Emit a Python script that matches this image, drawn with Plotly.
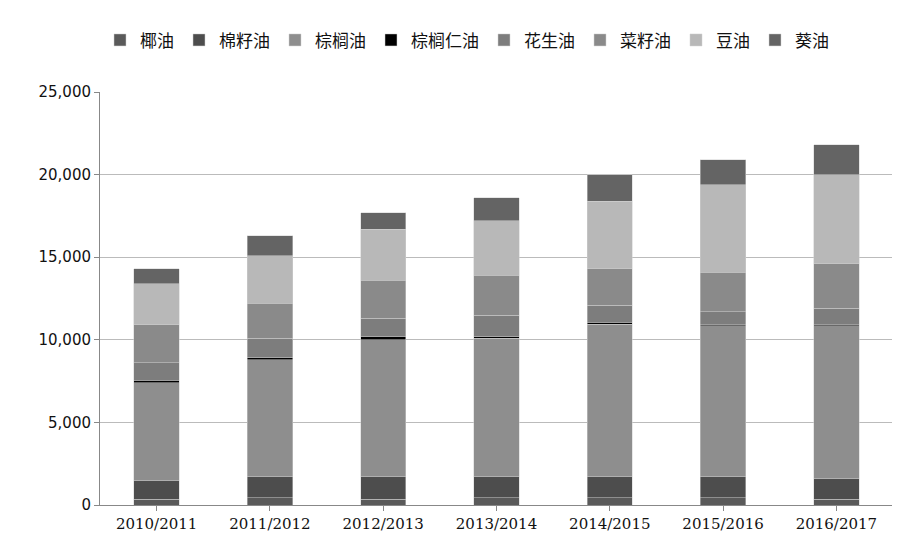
import plotly.graph_objects as go

years = ["2010/2011","2011/2012","2012/2013","2013/2014","2014/2015","2015/2016","2016/2017"]
names = ["椰油","棉籽油","棕榈油","棕榈仁油","花生油","菜籽油","豆油","葵油"]
cum = [
    [350,1500,7400,7550,8600,10900,13400,14300],
    [450,1700,8800,8900,10100,12200,15100,16300],
    [350,1700,10000,10200,11300,13600,16700,17700],
    [450,1750,10100,10200,11500,13900,17200,18600],
    [450,1750,10950,11050,12100,14300,18400,20000],
    [450,1700,10850,10950,11700,14100,19400,20900],
    [350,1600,10850,10950,11900,14600,20000,21800],
]
colors = ["#5a5a5a","#4d4d4d","#8e8e8e","#000000","#7d7d7d","#8a8a8a","#b8b8b8","#646464"]

fig = go.Figure()
for j, n in enumerate(names):
    vals = [row[j] - (row[j-1] if j else 0) for row in cum]
    fig.add_bar(x=years, y=vals, name=n, marker_color=colors[j],
                marker_line_color="#d0d0d0", marker_line_width=0.5)
fig.update_layout(
    barmode="stack", bargap=0.6, width=900, height=550,
    plot_bgcolor="white", paper_bgcolor="white",
    margin=dict(l=92, r=15, t=84, b=53, autoexpand=False),
    font=dict(family="Noto Sans CJK SC, DejaVu Sans", size=16, color="#111"),
    legend=dict(orientation="h", x=0.0, y=1.125, xanchor="left", yanchor="middle",
                font=dict(size=17), traceorder="normal", itemwidth=30),
    yaxis=dict(range=[0,25000], dtick=5000, tickformat=",", gridcolor="#bbbbbb",
               showline=True, linecolor="#888", ticks="outside", ticklen=5, tickcolor="#888",
               tickfont=dict(family="DejaVu Sans", size=15)),
    xaxis=dict(showline=True, linecolor="#888", ticks="outside", tickcolor="#888",
               tickfont=dict(family="DejaVu Serif", size=15)),
)
fig.write_html("out.html")
